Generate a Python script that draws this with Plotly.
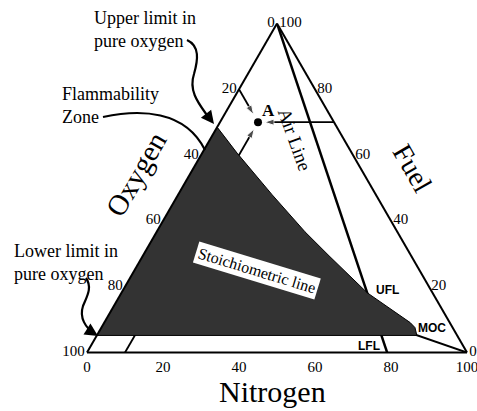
import plotly.graph_objects as go

# ---------------- data (percent: Fuel = a, Oxygen = b, Nitrogen = c) ----------------
tick_vals = [0, 20, 40, 60, 80, 100]
tick_text = ["100", "80", "60", "40", "20", "0"]

zone_fuel = [68.5, 60.6, 47.9, 36.7, 29.1, 18.2, 9.1, 7.6, 5.2, 5.2]
zone_oxygen = [31.5, 30.2, 27.3, 24.3, 21.5, 17.2, 10.4, 9.9, 10.6, 94.8]
zone_nitrogen = [0.0, 9.2, 24.8, 39.0, 49.4, 64.6, 80.5, 82.5, 84.2, 0.0]

air_fuel = [100, 0]
air_oxygen = [0, 21]
air_nitrogen = [0, 79]

stoich_fuel = [33.3, 0]
stoich_oxygen = [66.7, 0]
stoich_nitrogen = [0, 100]

point_A = dict(fuel=70, oxygen=20, nitrogen=10)

arrow1_fuel, arrow1_oxygen, arrow1_nitrogen = [80, 72.3], [20, 20], [0, 7.7]
arrow2_fuel, arrow2_oxygen, arrow2_nitrogen = [70, 70], [0, 18.3], [30, 11.7]
arrow3_fuel, arrow3_oxygen, arrow3_nitrogen = [0, 68.0], [90, 22.0], [10, 10]

SERIF = "Liberation Serif, Times New Roman, serif"
SANS = "Liberation Sans, Arial, sans-serif"

fig = go.Figure()

def line_trace(a, b, c, width=2):
    return go.Scatterternary(a=a, b=b, c=c, mode="lines",
                             line=dict(color="black", width=width),
                             hoverinfo="skip", showlegend=False)

def arrow_trace(a, b, c):
    return go.Scatterternary(a=a, b=b, c=c, mode="lines+markers",
                             line=dict(color="black", width=1.8),
                             marker=dict(symbol="arrow", size=[0, 10], color="black",
                                         angleref="previous"),
                             hoverinfo="skip", showlegend=False)

# lines lying under the zone
fig.add_trace(line_trace(stoich_fuel, stoich_oxygen, stoich_nitrogen, 2))
fig.add_trace(line_trace(air_fuel, air_oxygen, air_nitrogen, 2.5))
fig.add_trace(arrow_trace(arrow3_fuel, arrow3_oxygen, arrow3_nitrogen))

# flammability zone
fig.add_trace(go.Scatterternary(a=zone_fuel, b=zone_oxygen, c=zone_nitrogen,
                                mode="lines", fill="toself", fillcolor="#333333",
                                line=dict(color="black", width=1),
                                hoverinfo="skip", showlegend=False))

fig.add_trace(arrow_trace(arrow1_fuel, arrow1_oxygen, arrow1_nitrogen))
fig.add_trace(arrow_trace(arrow2_fuel, arrow2_oxygen, arrow2_nitrogen))
fig.add_trace(go.Scatterternary(a=[point_A["fuel"]], b=[point_A["oxygen"]], c=[point_A["nitrogen"]],
                                mode="markers", marker=dict(color="black", size=8),
                                hoverinfo="skip", showlegend=False))

axis_common = dict(tickmode="array", tickvals=tick_vals, ticktext=tick_text,
                   showgrid=False, showline=True, linecolor="black", linewidth=2,
                   ticks="", tickfont=dict(family=SERIF, size=15, color="black"),
                   title=dict(text=""))

L, R, T, B = 87, 10, 23, 58
W, H = 477, 411
PW, PH = W - L - R, H - T - B

def px(x):
    return (x - L) / PW

def py(y):
    return (H - B - y) / PH

fig.update_layout(
    width=W, height=H,
    margin=dict(l=L, r=R, t=T, b=B),
    paper_bgcolor="white",
    ternary=dict(sum=100, bgcolor="white", domain=dict(x=[0, 1], y=[0, 1]),
                 aaxis=axis_common, baxis=axis_common, caxis=axis_common),
)

def ann(text, x, y, size, font=SERIF, angle=0, xanchor="center", align="center", **kw):
    fig.add_annotation(text=text, x=px(x), y=py(y), xref="paper", yref="paper",
                       showarrow=False, textangle=angle, xanchor=xanchor, yanchor="middle",
                       align=align, font=dict(family=font, size=size, color="black"), **kw)

ann("Oxygen", 136, 174, 29, angle=-60)
ann("Fuel", 413, 168, 28, angle=60)
ann("Nitrogen", 272, 391, 30)
ann("Upper limit in<br>pure oxygen", 92, 29, 18, xanchor="left", align="left")
ann("Flammability<br>Zone", 60, 106, 18, xanchor="left", align="left")
ann("Lower limit in<br>pure oxygen", 12, 262, 18, xanchor="left", align="left")
ann("Air Line", 295, 139, 19, angle=70)
ann("<b>A</b>", 268, 110, 17)
ann("<b>UFL</b>", 387, 290, 12, font=SANS)
ann("<b>MOC</b>", 432, 328, 12, font=SANS)
ann("<b>LFL</b>", 369, 346, 12, font=SANS)
ann("Stoichiometric line", 257, 270, 16, angle=17, bgcolor="white", borderpad=2)

def path(points):
    s = "M %f,%f" % (px(points[0][0]), py(points[0][1]))
    for i in range(1, len(points), 3):
        p1, p2, p3 = points[i], points[i + 1], points[i + 2]
        s += " C %f,%f %f,%f %f,%f" % (px(p1[0]), py(p1[1]), px(p2[0]), py(p2[1]),
                                         px(p3[0]), py(p3[1]))
    return s

curves = [
    [(187, 40), (200, 46), (198, 60), (194, 74), (188, 92), (200, 105), (209, 118)],
    [(103, 117), (140, 109), (185, 110), (205, 150)],
    [(86, 278), (93, 288), (86, 298), (83, 306), (79, 318), (86, 328), (94, 333)],
]
for c in curves:
    fig.add_shape(type="path", path=path(c), xref="paper", yref="paper",
                  line=dict(color="black", width=2.2))

# arrowheads of the curved pointers
for tip, off in [((214, 124), (-7, -9)), ((98, 336), (-8, -5))]:
    fig.add_annotation(x=px(tip[0]), y=py(tip[1]), xref="paper", yref="paper", text="",
                       showarrow=True, ax=off[0], ay=off[1], arrowhead=2, arrowsize=1.3,
                       arrowwidth=2, arrowcolor="black")

fig.write_html("out.html", config={"displayModeBar": False},
               post_script="document.body.style.margin='0px';document.body.style.overflow='hidden';")
